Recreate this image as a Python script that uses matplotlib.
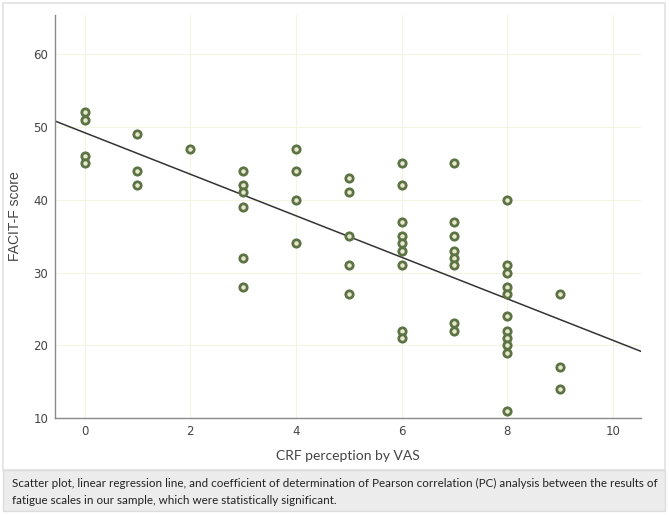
import matplotlib.pyplot as plt
from matplotlib.patches import Rectangle
import numpy as np

# CRF perception by VAS (x) vs FACIT-F score (y), one entry per point
vas = [0, 0, 0, 0,
       1, 1, 1,
       2,
       3, 3, 3, 3, 3, 3,
       4, 4, 4, 4,
       5, 5, 5, 5, 5,
       6, 6, 6, 6, 6, 6, 6, 6, 6,
       7, 7, 7, 7, 7, 7, 7, 7,
       8, 8, 8, 8, 8, 8, 8, 8, 8, 8, 8,
       9, 9, 9]
facit = [52, 51, 46, 45,
         49, 44, 42,
         47,
         44, 42, 41, 39, 32, 28,
         47, 44, 40, 34,
         43, 41, 35, 31, 27,
         45, 42, 37, 35, 34, 33, 31, 22, 21,
         45, 37, 35, 33, 32, 31, 23, 22,
         40, 31, 30, 28, 27, 24, 22, 21, 20, 19, 11,
         27, 17, 14]

x_ticks = [0, 2, 4, 6, 8, 10]
y_ticks = [10, 20, 30, 40, 50, 60]
caption = ("Scatter plot, linear regression line, and coefficient of determination of Pearson correlation (PC) analysis between the results of\n"
           "fatigue scales in our sample, which were statistically significant.")

fig = plt.figure(figsize=(6.69, 5.15), dpi=100)
fig.patch.set_facecolor("white")

# outer panel and caption box (behind the axes)
fig.patches.append(Rectangle((3 / 669, 1 - 470 / 515), 662 / 669, 467 / 515,
                             transform=fig.transFigure, facecolor="white",
                             edgecolor="#e2e2e2", lw=1.2, zorder=-5))
fig.patches.append(Rectangle((3 / 669, 1 - 511 / 515), 662 / 669, 41 / 515,
                             transform=fig.transFigure, facecolor="#ececec",
                             edgecolor="#dcdcdc", lw=1.0, zorder=-5))

ax = fig.add_axes([55 / 669, 1 - 418 / 515, 586 / 669, 403 / 515])
ax.set_zorder(2)
ax.set_facecolor("none")

xlo, xhi = -0.56, 10.53
ax.set_xlim(xlo, xhi)
ax.set_ylim(10, 65.4)

# regression line across the full axis width
slope, icpt = np.polyfit(vas, facit, 1)
xs = np.array([xlo, xhi])
ax.plot(xs, icpt + slope * xs, color="#333333", lw=1.1, zorder=2)

ax.plot(vas, facit, "o", ms=5.3, mew=2.0, mec="#5c7344", mfc="#e8e6cc",
        linestyle="none", zorder=3, clip_on=False)

ax.set_xticks(x_ticks)
ax.set_yticks(y_ticks)
ax.tick_params(length=0, labelsize=8.5, labelcolor="#444444", pad=5)
ax.grid(True, color="#f4f4e2", lw=0.8, zorder=0)
ax.set_axisbelow(True)

for s in ["top", "right"]:
    ax.spines[s].set_visible(False)
for s in ["left", "bottom"]:
    ax.spines[s].set_color("#8a8a8a")
    ax.spines[s].set_linewidth(1.0)

ax.set_xlabel("CRF perception by VAS", fontsize=10, color="#444444",
              family="Lato", labelpad=9)
ax.set_ylabel("FACIT-F score", fontsize=10, color="#444444",
              family="Liberation Sans", labelpad=8)

fig.text(12 / 669, 1 - 492 / 515, caption, fontsize=8.4, family="Lato",
         color="#222222", va="center", ha="left", linespacing=1.7)

fig.savefig("out.png", dpi=100)
